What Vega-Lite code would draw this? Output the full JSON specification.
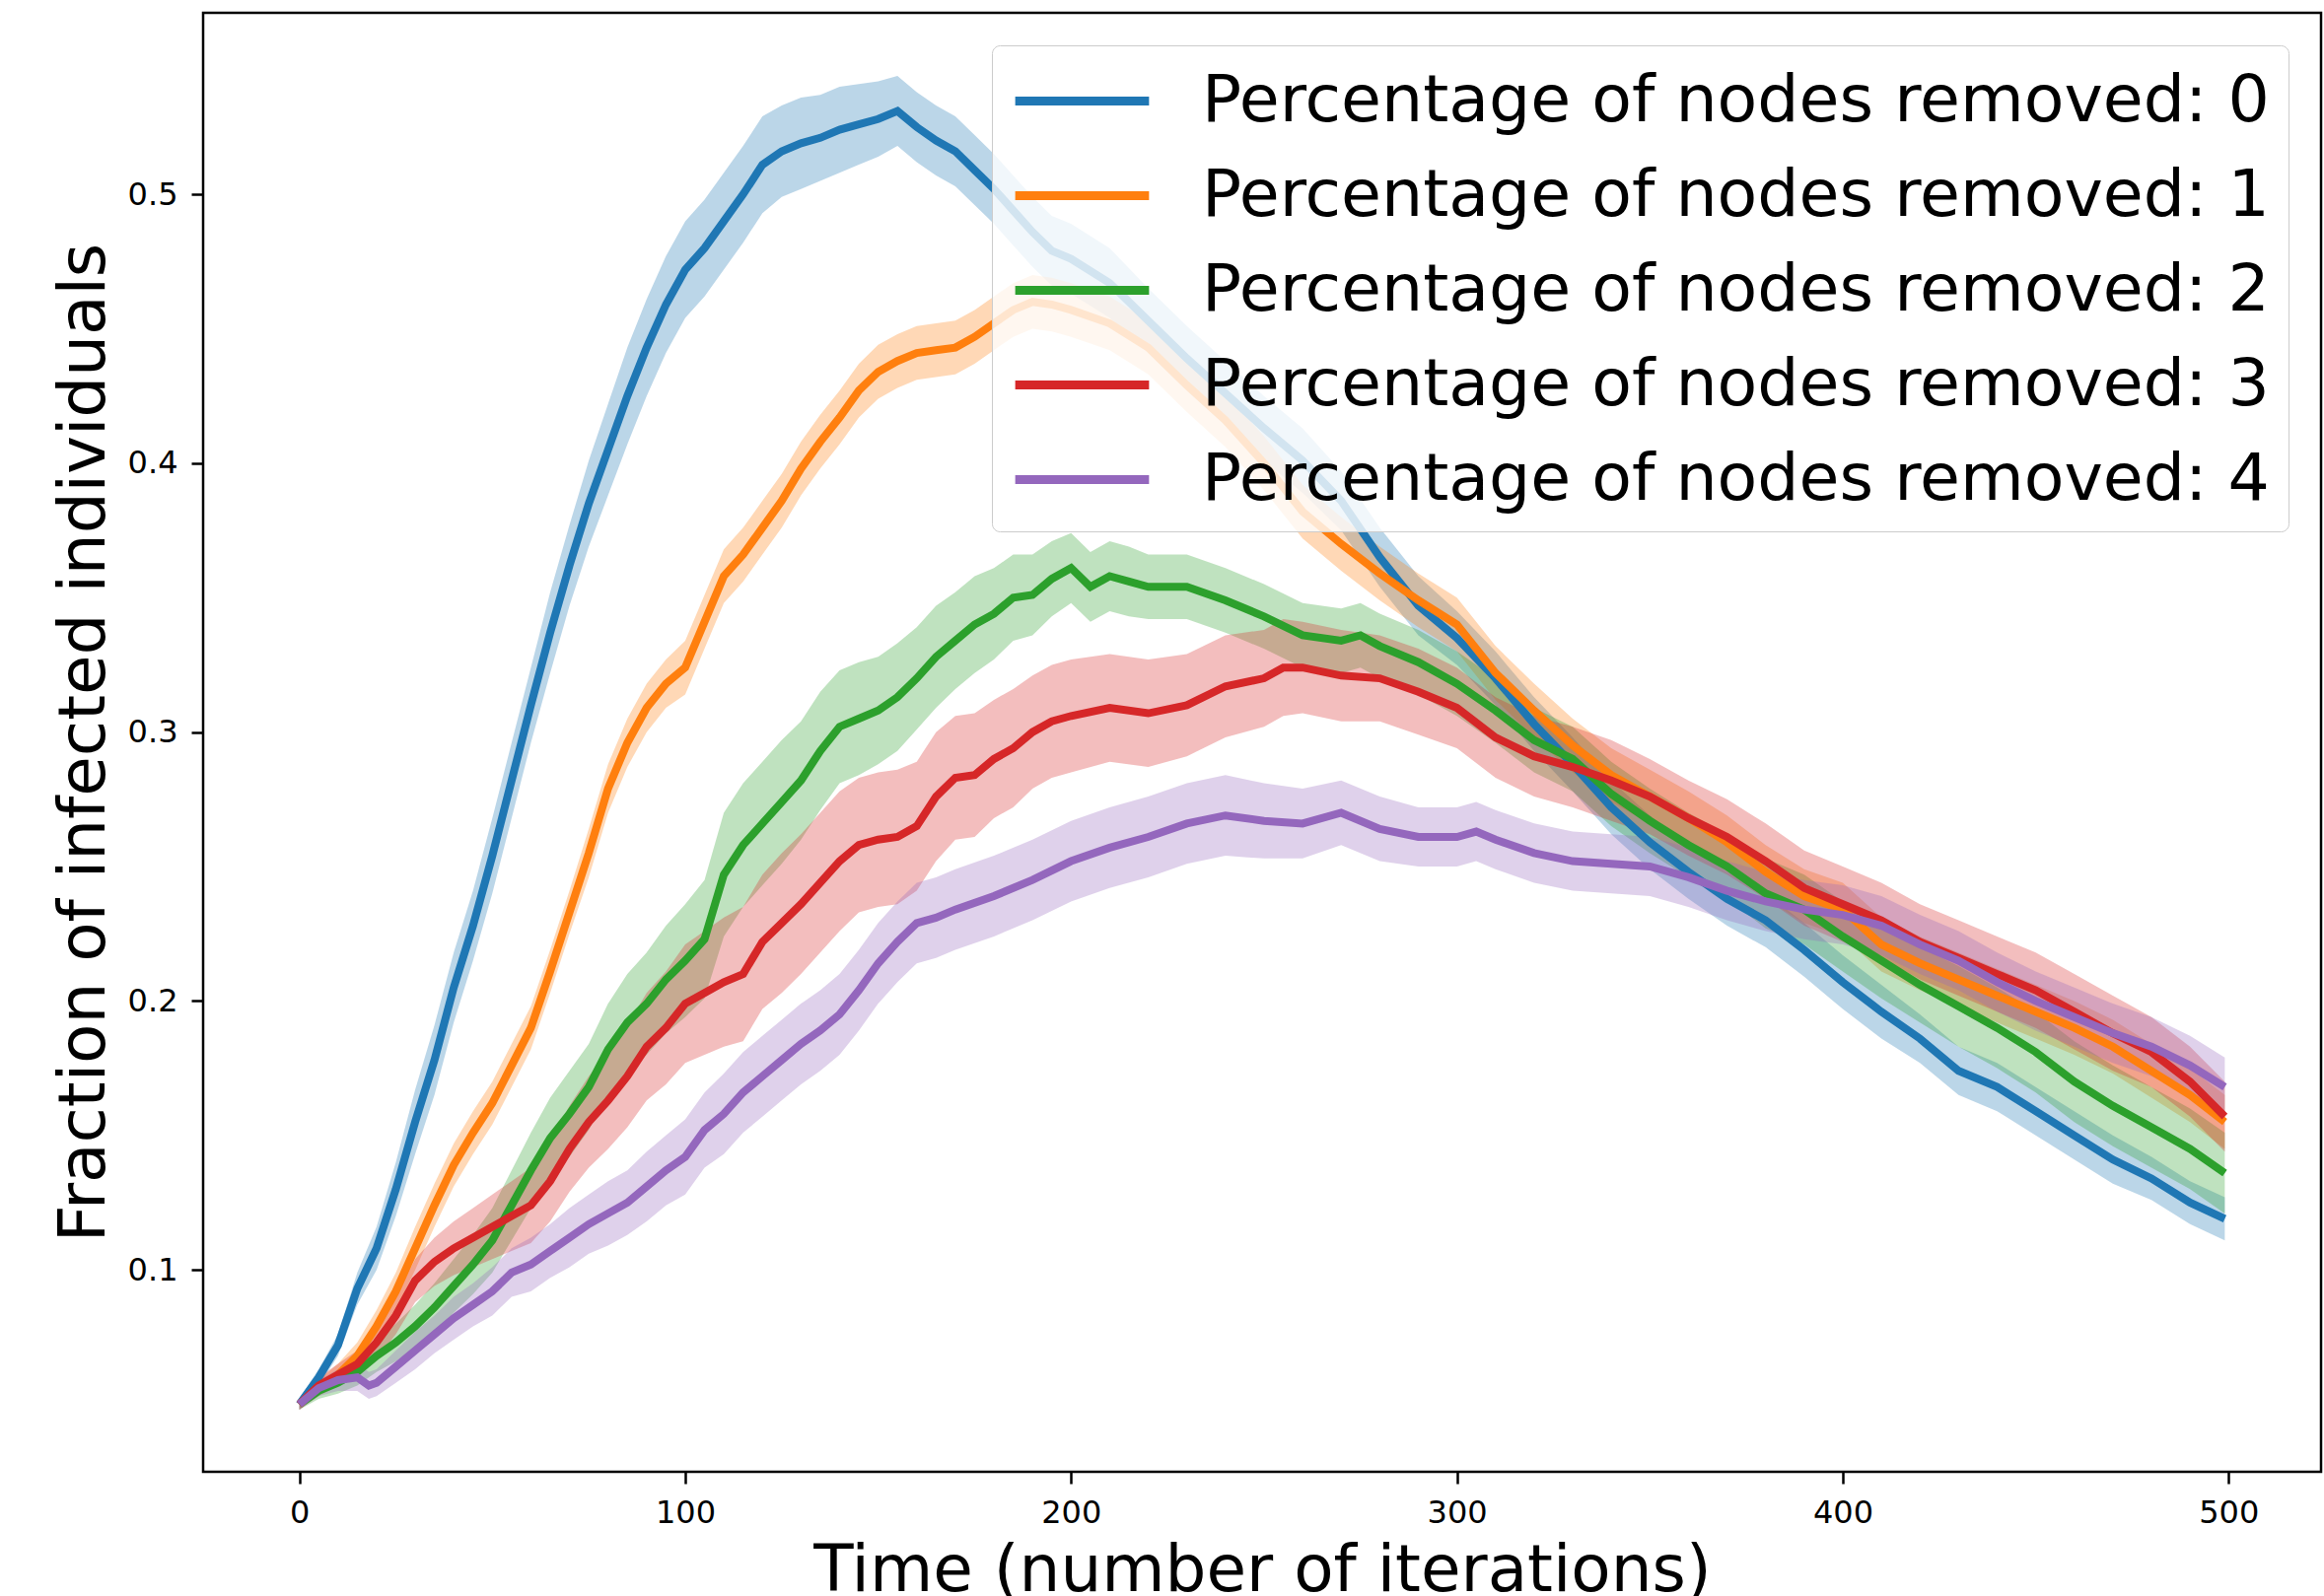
{
"$schema": "https://vega.github.io/schema/vega-lite/v6.json",
"width": 2148, "height": 1480,
"autosize": {"type": "none"},
"padding": {"left": 206, "top": 13, "right": 3, "bottom": 126},
"background": "white",
"config": {
  "font": "DejaVu Sans",
  "view": {"stroke": "black", "strokeWidth": 2.5},
  "axis": {"grid": false, "domain": false, "tickColor": "black", "tickWidth": 2.5, "tickSize": 12, "labelFont": "DejaVu Sans", "labelFontSize": 32, "labelColor": "black", "titleFont": "DejaVu Sans", "titleFontSize": 66, "titleFontWeight": "normal", "titleColor": "black", "labelFlush": false}
},
"data": {"values": [
{"p":0,"t":0,"v":0.050,"e":0.002},{"p":0,"t":5,"v":0.060,"e":0.003},{"p":0,"t":10,"v":0.072,"e":0.004},{"p":0,"t":15,"v":0.093,"e":0.006},{"p":0,"t":20,"v":0.108,"e":0.008},{"p":0,"t":25,"v":0.130,"e":0.010},{"p":0,"t":30,"v":0.155,"e":0.012},{"p":0,"t":35,"v":0.178,"e":0.013},{"p":0,"t":40,"v":0.205,"e":0.013},{"p":0,"t":45,"v":0.228,"e":0.013},{"p":0,"t":50,"v":0.254,"e":0.014},{"p":0,"t":55,"v":0.282,"e":0.014},{"p":0,"t":60,"v":0.310,"e":0.014},{"p":0,"t":65,"v":0.337,"e":0.015},{"p":0,"t":70,"v":0.362,"e":0.015},{"p":0,"t":75,"v":0.385,"e":0.016},{"p":0,"t":80,"v":0.405,"e":0.017},{"p":0,"t":85,"v":0.425,"e":0.018},{"p":0,"t":90,"v":0.443,"e":0.018},{"p":0,"t":95,"v":0.459,"e":0.018},{"p":0,"t":100,"v":0.472,"e":0.018},{"p":0,"t":105,"v":0.480,"e":0.018},{"p":0,"t":110,"v":0.490,"e":0.018},{"p":0,"t":115,"v":0.500,"e":0.018},{"p":0,"t":120,"v":0.511,"e":0.018},{"p":0,"t":125,"v":0.516,"e":0.017},{"p":0,"t":130,"v":0.519,"e":0.017},{"p":0,"t":135,"v":0.521,"e":0.016},{"p":0,"t":140,"v":0.524,"e":0.016},{"p":0,"t":145,"v":0.526,"e":0.015},{"p":0,"t":150,"v":0.528,"e":0.014},{"p":0,"t":155,"v":0.531,"e":0.013},{"p":0,"t":160,"v":0.525,"e":0.013},{"p":0,"t":165,"v":0.520,"e":0.013},{"p":0,"t":170,"v":0.516,"e":0.013},{"p":0,"t":175,"v":0.509,"e":0.013},{"p":0,"t":180,"v":0.502,"e":0.013},{"p":0,"t":185,"v":0.494,"e":0.013},{"p":0,"t":190,"v":0.486,"e":0.013},{"p":0,"t":195,"v":0.479,"e":0.013},{"p":0,"t":200,"v":0.476,"e":0.013},{"p":0,"t":210,"v":0.467,"e":0.013},{"p":0,"t":220,"v":0.453,"e":0.012},{"p":0,"t":230,"v":0.439,"e":0.012},{"p":0,"t":240,"v":0.426,"e":0.012},{"p":0,"t":250,"v":0.413,"e":0.012},{"p":0,"t":260,"v":0.401,"e":0.012},{"p":0,"t":270,"v":0.386,"e":0.011},{"p":0,"t":280,"v":0.365,"e":0.011},{"p":0,"t":290,"v":0.347,"e":0.011},{"p":0,"t":300,"v":0.335,"e":0.010},{"p":0,"t":310,"v":0.320,"e":0.010},{"p":0,"t":320,"v":0.303,"e":0.010},{"p":0,"t":330,"v":0.288,"e":0.010},{"p":0,"t":340,"v":0.272,"e":0.010},{"p":0,"t":350,"v":0.259,"e":0.010},{"p":0,"t":360,"v":0.248,"e":0.010},{"p":0,"t":370,"v":0.238,"e":0.010},{"p":0,"t":380,"v":0.230,"e":0.010},{"p":0,"t":390,"v":0.219,"e":0.010},{"p":0,"t":400,"v":0.207,"e":0.010},{"p":0,"t":410,"v":0.196,"e":0.010},{"p":0,"t":420,"v":0.186,"e":0.009},{"p":0,"t":430,"v":0.174,"e":0.009},{"p":0,"t":440,"v":0.168,"e":0.009},{"p":0,"t":450,"v":0.159,"e":0.009},{"p":0,"t":460,"v":0.150,"e":0.009},{"p":0,"t":470,"v":0.141,"e":0.009},{"p":0,"t":480,"v":0.134,"e":0.008},{"p":0,"t":490,"v":0.125,"e":0.008},{"p":0,"t":499,"v":0.119,"e":0.008},
{"p":1,"t":0,"v":0.050,"e":0.002},{"p":1,"t":5,"v":0.056,"e":0.003},{"p":1,"t":10,"v":0.061,"e":0.004},{"p":1,"t":15,"v":0.068,"e":0.005},{"p":1,"t":20,"v":0.079,"e":0.006},{"p":1,"t":25,"v":0.092,"e":0.007},{"p":1,"t":30,"v":0.108,"e":0.008},{"p":1,"t":35,"v":0.124,"e":0.008},{"p":1,"t":40,"v":0.139,"e":0.008},{"p":1,"t":45,"v":0.151,"e":0.008},{"p":1,"t":50,"v":0.162,"e":0.008},{"p":1,"t":55,"v":0.176,"e":0.008},{"p":1,"t":60,"v":0.190,"e":0.008},{"p":1,"t":65,"v":0.211,"e":0.008},{"p":1,"t":70,"v":0.233,"e":0.008},{"p":1,"t":75,"v":0.255,"e":0.009},{"p":1,"t":80,"v":0.279,"e":0.009},{"p":1,"t":85,"v":0.296,"e":0.009},{"p":1,"t":90,"v":0.309,"e":0.009},{"p":1,"t":95,"v":0.318,"e":0.009},{"p":1,"t":100,"v":0.324,"e":0.010},{"p":1,"t":105,"v":0.341,"e":0.010},{"p":1,"t":110,"v":0.358,"e":0.010},{"p":1,"t":115,"v":0.366,"e":0.010},{"p":1,"t":120,"v":0.376,"e":0.010},{"p":1,"t":125,"v":0.386,"e":0.010},{"p":1,"t":130,"v":0.398,"e":0.010},{"p":1,"t":135,"v":0.408,"e":0.010},{"p":1,"t":140,"v":0.417,"e":0.010},{"p":1,"t":145,"v":0.427,"e":0.010},{"p":1,"t":150,"v":0.434,"e":0.010},{"p":1,"t":155,"v":0.438,"e":0.010},{"p":1,"t":160,"v":0.441,"e":0.010},{"p":1,"t":165,"v":0.442,"e":0.010},{"p":1,"t":170,"v":0.443,"e":0.010},{"p":1,"t":175,"v":0.447,"e":0.010},{"p":1,"t":180,"v":0.452,"e":0.010},{"p":1,"t":185,"v":0.457,"e":0.010},{"p":1,"t":190,"v":0.460,"e":0.010},{"p":1,"t":195,"v":0.459,"e":0.010},{"p":1,"t":200,"v":0.457,"e":0.010},{"p":1,"t":210,"v":0.452,"e":0.010},{"p":1,"t":220,"v":0.443,"e":0.010},{"p":1,"t":230,"v":0.429,"e":0.010},{"p":1,"t":240,"v":0.416,"e":0.010},{"p":1,"t":250,"v":0.400,"e":0.010},{"p":1,"t":260,"v":0.382,"e":0.010},{"p":1,"t":270,"v":0.370,"e":0.010},{"p":1,"t":280,"v":0.359,"e":0.010},{"p":1,"t":290,"v":0.349,"e":0.010},{"p":1,"t":300,"v":0.340,"e":0.010},{"p":1,"t":310,"v":0.322,"e":0.010},{"p":1,"t":320,"v":0.308,"e":0.010},{"p":1,"t":330,"v":0.295,"e":0.010},{"p":1,"t":340,"v":0.284,"e":0.010},{"p":1,"t":350,"v":0.276,"e":0.010},{"p":1,"t":360,"v":0.268,"e":0.010},{"p":1,"t":370,"v":0.259,"e":0.010},{"p":1,"t":380,"v":0.248,"e":0.010},{"p":1,"t":390,"v":0.239,"e":0.010},{"p":1,"t":400,"v":0.234,"e":0.010},{"p":1,"t":410,"v":0.221,"e":0.010},{"p":1,"t":420,"v":0.214,"e":0.010},{"p":1,"t":430,"v":0.208,"e":0.010},{"p":1,"t":440,"v":0.202,"e":0.010},{"p":1,"t":450,"v":0.196,"e":0.010},{"p":1,"t":460,"v":0.190,"e":0.010},{"p":1,"t":470,"v":0.183,"e":0.010},{"p":1,"t":480,"v":0.174,"e":0.010},{"p":1,"t":490,"v":0.165,"e":0.010},{"p":1,"t":499,"v":0.155,"e":0.010},
{"p":2,"t":0,"v":0.050,"e":0.002},{"p":2,"t":5,"v":0.055,"e":0.003},{"p":2,"t":10,"v":0.058,"e":0.004},{"p":2,"t":15,"v":0.062,"e":0.005},{"p":2,"t":20,"v":0.068,"e":0.006},{"p":2,"t":25,"v":0.073,"e":0.007},{"p":2,"t":30,"v":0.079,"e":0.008},{"p":2,"t":35,"v":0.086,"e":0.009},{"p":2,"t":40,"v":0.094,"e":0.010},{"p":2,"t":45,"v":0.102,"e":0.011},{"p":2,"t":50,"v":0.111,"e":0.012},{"p":2,"t":55,"v":0.124,"e":0.013},{"p":2,"t":60,"v":0.137,"e":0.014},{"p":2,"t":65,"v":0.149,"e":0.015},{"p":2,"t":70,"v":0.158,"e":0.016},{"p":2,"t":75,"v":0.168,"e":0.016},{"p":2,"t":80,"v":0.182,"e":0.017},{"p":2,"t":85,"v":0.192,"e":0.018},{"p":2,"t":90,"v":0.199,"e":0.019},{"p":2,"t":95,"v":0.208,"e":0.020},{"p":2,"t":100,"v":0.215,"e":0.021},{"p":2,"t":105,"v":0.223,"e":0.022},{"p":2,"t":110,"v":0.247,"e":0.023},{"p":2,"t":115,"v":0.258,"e":0.023},{"p":2,"t":120,"v":0.266,"e":0.023},{"p":2,"t":125,"v":0.274,"e":0.023},{"p":2,"t":130,"v":0.282,"e":0.022},{"p":2,"t":135,"v":0.293,"e":0.022},{"p":2,"t":140,"v":0.302,"e":0.021},{"p":2,"t":145,"v":0.305,"e":0.021},{"p":2,"t":150,"v":0.308,"e":0.020},{"p":2,"t":155,"v":0.313,"e":0.020},{"p":2,"t":160,"v":0.320,"e":0.019},{"p":2,"t":165,"v":0.328,"e":0.019},{"p":2,"t":170,"v":0.334,"e":0.018},{"p":2,"t":175,"v":0.340,"e":0.018},{"p":2,"t":180,"v":0.344,"e":0.017},{"p":2,"t":185,"v":0.350,"e":0.016},{"p":2,"t":190,"v":0.351,"e":0.015},{"p":2,"t":195,"v":0.357,"e":0.014},{"p":2,"t":200,"v":0.361,"e":0.013},{"p":2,"t":205,"v":0.354,"e":0.013},{"p":2,"t":210,"v":0.358,"e":0.013},{"p":2,"t":215,"v":0.356,"e":0.013},{"p":2,"t":220,"v":0.354,"e":0.012},{"p":2,"t":230,"v":0.354,"e":0.012},{"p":2,"t":240,"v":0.349,"e":0.012},{"p":2,"t":250,"v":0.343,"e":0.012},{"p":2,"t":260,"v":0.336,"e":0.012},{"p":2,"t":270,"v":0.334,"e":0.012},{"p":2,"t":275,"v":0.336,"e":0.012},{"p":2,"t":280,"v":0.332,"e":0.012},{"p":2,"t":290,"v":0.326,"e":0.012},{"p":2,"t":300,"v":0.318,"e":0.012},{"p":2,"t":310,"v":0.308,"e":0.012},{"p":2,"t":320,"v":0.297,"e":0.012},{"p":2,"t":330,"v":0.290,"e":0.012},{"p":2,"t":340,"v":0.277,"e":0.012},{"p":2,"t":350,"v":0.267,"e":0.012},{"p":2,"t":360,"v":0.258,"e":0.012},{"p":2,"t":370,"v":0.250,"e":0.012},{"p":2,"t":380,"v":0.240,"e":0.013},{"p":2,"t":390,"v":0.234,"e":0.013},{"p":2,"t":400,"v":0.224,"e":0.013},{"p":2,"t":410,"v":0.215,"e":0.014},{"p":2,"t":420,"v":0.206,"e":0.014},{"p":2,"t":430,"v":0.198,"e":0.015},{"p":2,"t":440,"v":0.190,"e":0.015},{"p":2,"t":450,"v":0.181,"e":0.015},{"p":2,"t":460,"v":0.170,"e":0.015},{"p":2,"t":470,"v":0.161,"e":0.015},{"p":2,"t":480,"v":0.153,"e":0.015},{"p":2,"t":490,"v":0.145,"e":0.015},{"p":2,"t":499,"v":0.136,"e":0.015},
{"p":3,"t":0,"v":0.050,"e":0.002},{"p":3,"t":5,"v":0.057,"e":0.003},{"p":3,"t":10,"v":0.061,"e":0.004},{"p":3,"t":15,"v":0.065,"e":0.005},{"p":3,"t":20,"v":0.073,"e":0.006},{"p":3,"t":25,"v":0.083,"e":0.007},{"p":3,"t":30,"v":0.096,"e":0.008},{"p":3,"t":35,"v":0.103,"e":0.009},{"p":3,"t":40,"v":0.108,"e":0.010},{"p":3,"t":45,"v":0.112,"e":0.011},{"p":3,"t":50,"v":0.116,"e":0.012},{"p":3,"t":55,"v":0.120,"e":0.013},{"p":3,"t":60,"v":0.124,"e":0.014},{"p":3,"t":65,"v":0.133,"e":0.015},{"p":3,"t":70,"v":0.145,"e":0.016},{"p":3,"t":75,"v":0.155,"e":0.017},{"p":3,"t":80,"v":0.163,"e":0.018},{"p":3,"t":85,"v":0.172,"e":0.019},{"p":3,"t":90,"v":0.183,"e":0.020},{"p":3,"t":95,"v":0.190,"e":0.021},{"p":3,"t":100,"v":0.199,"e":0.022},{"p":3,"t":105,"v":0.203,"e":0.023},{"p":3,"t":110,"v":0.207,"e":0.024},{"p":3,"t":115,"v":0.210,"e":0.025},{"p":3,"t":120,"v":0.222,"e":0.025},{"p":3,"t":125,"v":0.229,"e":0.026},{"p":3,"t":130,"v":0.236,"e":0.026},{"p":3,"t":135,"v":0.244,"e":0.026},{"p":3,"t":140,"v":0.252,"e":0.026},{"p":3,"t":145,"v":0.258,"e":0.025},{"p":3,"t":150,"v":0.260,"e":0.025},{"p":3,"t":155,"v":0.261,"e":0.025},{"p":3,"t":160,"v":0.265,"e":0.024},{"p":3,"t":165,"v":0.276,"e":0.024},{"p":3,"t":170,"v":0.283,"e":0.023},{"p":3,"t":175,"v":0.284,"e":0.023},{"p":3,"t":180,"v":0.290,"e":0.022},{"p":3,"t":185,"v":0.294,"e":0.022},{"p":3,"t":190,"v":0.300,"e":0.021},{"p":3,"t":195,"v":0.304,"e":0.021},{"p":3,"t":200,"v":0.306,"e":0.021},{"p":3,"t":210,"v":0.309,"e":0.020},{"p":3,"t":220,"v":0.307,"e":0.020},{"p":3,"t":230,"v":0.310,"e":0.019},{"p":3,"t":240,"v":0.317,"e":0.019},{"p":3,"t":250,"v":0.320,"e":0.018},{"p":3,"t":255,"v":0.324,"e":0.018},{"p":3,"t":260,"v":0.324,"e":0.017},{"p":3,"t":270,"v":0.321,"e":0.017},{"p":3,"t":280,"v":0.320,"e":0.016},{"p":3,"t":290,"v":0.315,"e":0.016},{"p":3,"t":300,"v":0.309,"e":0.015},{"p":3,"t":310,"v":0.298,"e":0.015},{"p":3,"t":320,"v":0.291,"e":0.015},{"p":3,"t":330,"v":0.287,"e":0.015},{"p":3,"t":340,"v":0.282,"e":0.015},{"p":3,"t":350,"v":0.276,"e":0.014},{"p":3,"t":360,"v":0.268,"e":0.014},{"p":3,"t":370,"v":0.261,"e":0.014},{"p":3,"t":380,"v":0.252,"e":0.014},{"p":3,"t":390,"v":0.242,"e":0.014},{"p":3,"t":400,"v":0.236,"e":0.014},{"p":3,"t":410,"v":0.230,"e":0.014},{"p":3,"t":420,"v":0.222,"e":0.014},{"p":3,"t":430,"v":0.216,"e":0.014},{"p":3,"t":440,"v":0.210,"e":0.014},{"p":3,"t":450,"v":0.204,"e":0.014},{"p":3,"t":460,"v":0.196,"e":0.014},{"p":3,"t":470,"v":0.188,"e":0.014},{"p":3,"t":480,"v":0.181,"e":0.013},{"p":3,"t":490,"v":0.170,"e":0.013},{"p":3,"t":499,"v":0.157,"e":0.013},
{"p":4,"t":0,"v":0.050,"e":0.002},{"p":4,"t":5,"v":0.056,"e":0.003},{"p":4,"t":10,"v":0.059,"e":0.004},{"p":4,"t":15,"v":0.060,"e":0.005},{"p":4,"t":18,"v":0.057,"e":0.005},{"p":4,"t":20,"v":0.058,"e":0.005},{"p":4,"t":25,"v":0.064,"e":0.006},{"p":4,"t":30,"v":0.070,"e":0.007},{"p":4,"t":35,"v":0.076,"e":0.007},{"p":4,"t":40,"v":0.082,"e":0.008},{"p":4,"t":45,"v":0.087,"e":0.008},{"p":4,"t":50,"v":0.092,"e":0.009},{"p":4,"t":55,"v":0.099,"e":0.009},{"p":4,"t":60,"v":0.102,"e":0.010},{"p":4,"t":65,"v":0.107,"e":0.010},{"p":4,"t":70,"v":0.112,"e":0.011},{"p":4,"t":75,"v":0.117,"e":0.011},{"p":4,"t":80,"v":0.121,"e":0.012},{"p":4,"t":85,"v":0.125,"e":0.012},{"p":4,"t":90,"v":0.131,"e":0.013},{"p":4,"t":95,"v":0.137,"e":0.013},{"p":4,"t":100,"v":0.142,"e":0.014},{"p":4,"t":105,"v":0.152,"e":0.014},{"p":4,"t":110,"v":0.158,"e":0.015},{"p":4,"t":115,"v":0.166,"e":0.015},{"p":4,"t":120,"v":0.172,"e":0.015},{"p":4,"t":125,"v":0.178,"e":0.015},{"p":4,"t":130,"v":0.184,"e":0.015},{"p":4,"t":135,"v":0.189,"e":0.015},{"p":4,"t":140,"v":0.195,"e":0.015},{"p":4,"t":145,"v":0.204,"e":0.015},{"p":4,"t":150,"v":0.214,"e":0.015},{"p":4,"t":155,"v":0.222,"e":0.015},{"p":4,"t":160,"v":0.229,"e":0.015},{"p":4,"t":165,"v":0.231,"e":0.015},{"p":4,"t":170,"v":0.234,"e":0.015},{"p":4,"t":180,"v":0.239,"e":0.015},{"p":4,"t":190,"v":0.245,"e":0.015},{"p":4,"t":200,"v":0.252,"e":0.015},{"p":4,"t":210,"v":0.257,"e":0.015},{"p":4,"t":220,"v":0.261,"e":0.015},{"p":4,"t":230,"v":0.266,"e":0.015},{"p":4,"t":240,"v":0.269,"e":0.015},{"p":4,"t":250,"v":0.267,"e":0.014},{"p":4,"t":260,"v":0.266,"e":0.013},{"p":4,"t":270,"v":0.270,"e":0.012},{"p":4,"t":280,"v":0.264,"e":0.012},{"p":4,"t":290,"v":0.261,"e":0.011},{"p":4,"t":300,"v":0.261,"e":0.011},{"p":4,"t":305,"v":0.263,"e":0.011},{"p":4,"t":310,"v":0.260,"e":0.011},{"p":4,"t":320,"v":0.255,"e":0.011},{"p":4,"t":330,"v":0.252,"e":0.011},{"p":4,"t":340,"v":0.251,"e":0.011},{"p":4,"t":350,"v":0.250,"e":0.011},{"p":4,"t":360,"v":0.246,"e":0.011},{"p":4,"t":370,"v":0.241,"e":0.011},{"p":4,"t":380,"v":0.237,"e":0.011},{"p":4,"t":390,"v":0.234,"e":0.011},{"p":4,"t":400,"v":0.232,"e":0.011},{"p":4,"t":410,"v":0.228,"e":0.011},{"p":4,"t":420,"v":0.221,"e":0.011},{"p":4,"t":430,"v":0.215,"e":0.011},{"p":4,"t":440,"v":0.207,"e":0.011},{"p":4,"t":450,"v":0.200,"e":0.011},{"p":4,"t":460,"v":0.194,"e":0.011},{"p":4,"t":470,"v":0.188,"e":0.011},{"p":4,"t":480,"v":0.183,"e":0.011},{"p":4,"t":490,"v":0.176,"e":0.011},{"p":4,"t":499,"v":0.168,"e":0.011}
]},
"encoding": {
  "x": {"field": "t", "type": "quantitative", "scale": {"domain": [-24.95, 523.95], "nice": false, "zero": false},
        "axis": {"values": [0,100,200,300,400,500], "title": "Time (number of iterations)", "labelPadding": 14, "titlePadding": 11}},
  "y": {"field": "v", "type": "quantitative", "scale": {"domain": [0.0249, 0.5675], "nice": false, "zero": false},
        "axis": {"values": [0.1,0.2,0.3,0.4,0.5], "format": ".1f", "title": "Fraction of infected individuals", "labelPadding": 14, "titlePadding": 10}},
  "color": {"field": "p", "type": "nominal", "scale": {"range": ["#1f77b4","#ff7f0e","#2ca02c","#d62728","#9467bd"]},
       "legend": {"title": null, "orient": "top-right", "offset": 33, "labelExpr": "'Percentage of nodes removed: ' + datum.label",
         "labelFont": "DejaVu Sans", "labelFontSize": 66.5, "labelColor": "black", "labelLimit": 0,
         "symbolType": "M-2.056,0H2.056", "symbolSize": 4356, "symbolStrokeWidth": 9, "symbolOpacity": 1, "symbolFillColor": "transparent",
         "symbolOffset": 35, "labelOffset": 84, "rowPadding": 25,
         "padding": 19, "cornerRadius": 8, "strokeColor": "#cccccc", "fillColor": "rgba(255,255,255,0.8)", "zindex": 1}}
},
"layer": [
  {"mark": {"type": "errorband", "band": {"opacity": 0.3}},
   "encoding": {"yError": {"field": "e"}}},
  {"mark": {"type": "line", "strokeWidth": 8}}
]
}
